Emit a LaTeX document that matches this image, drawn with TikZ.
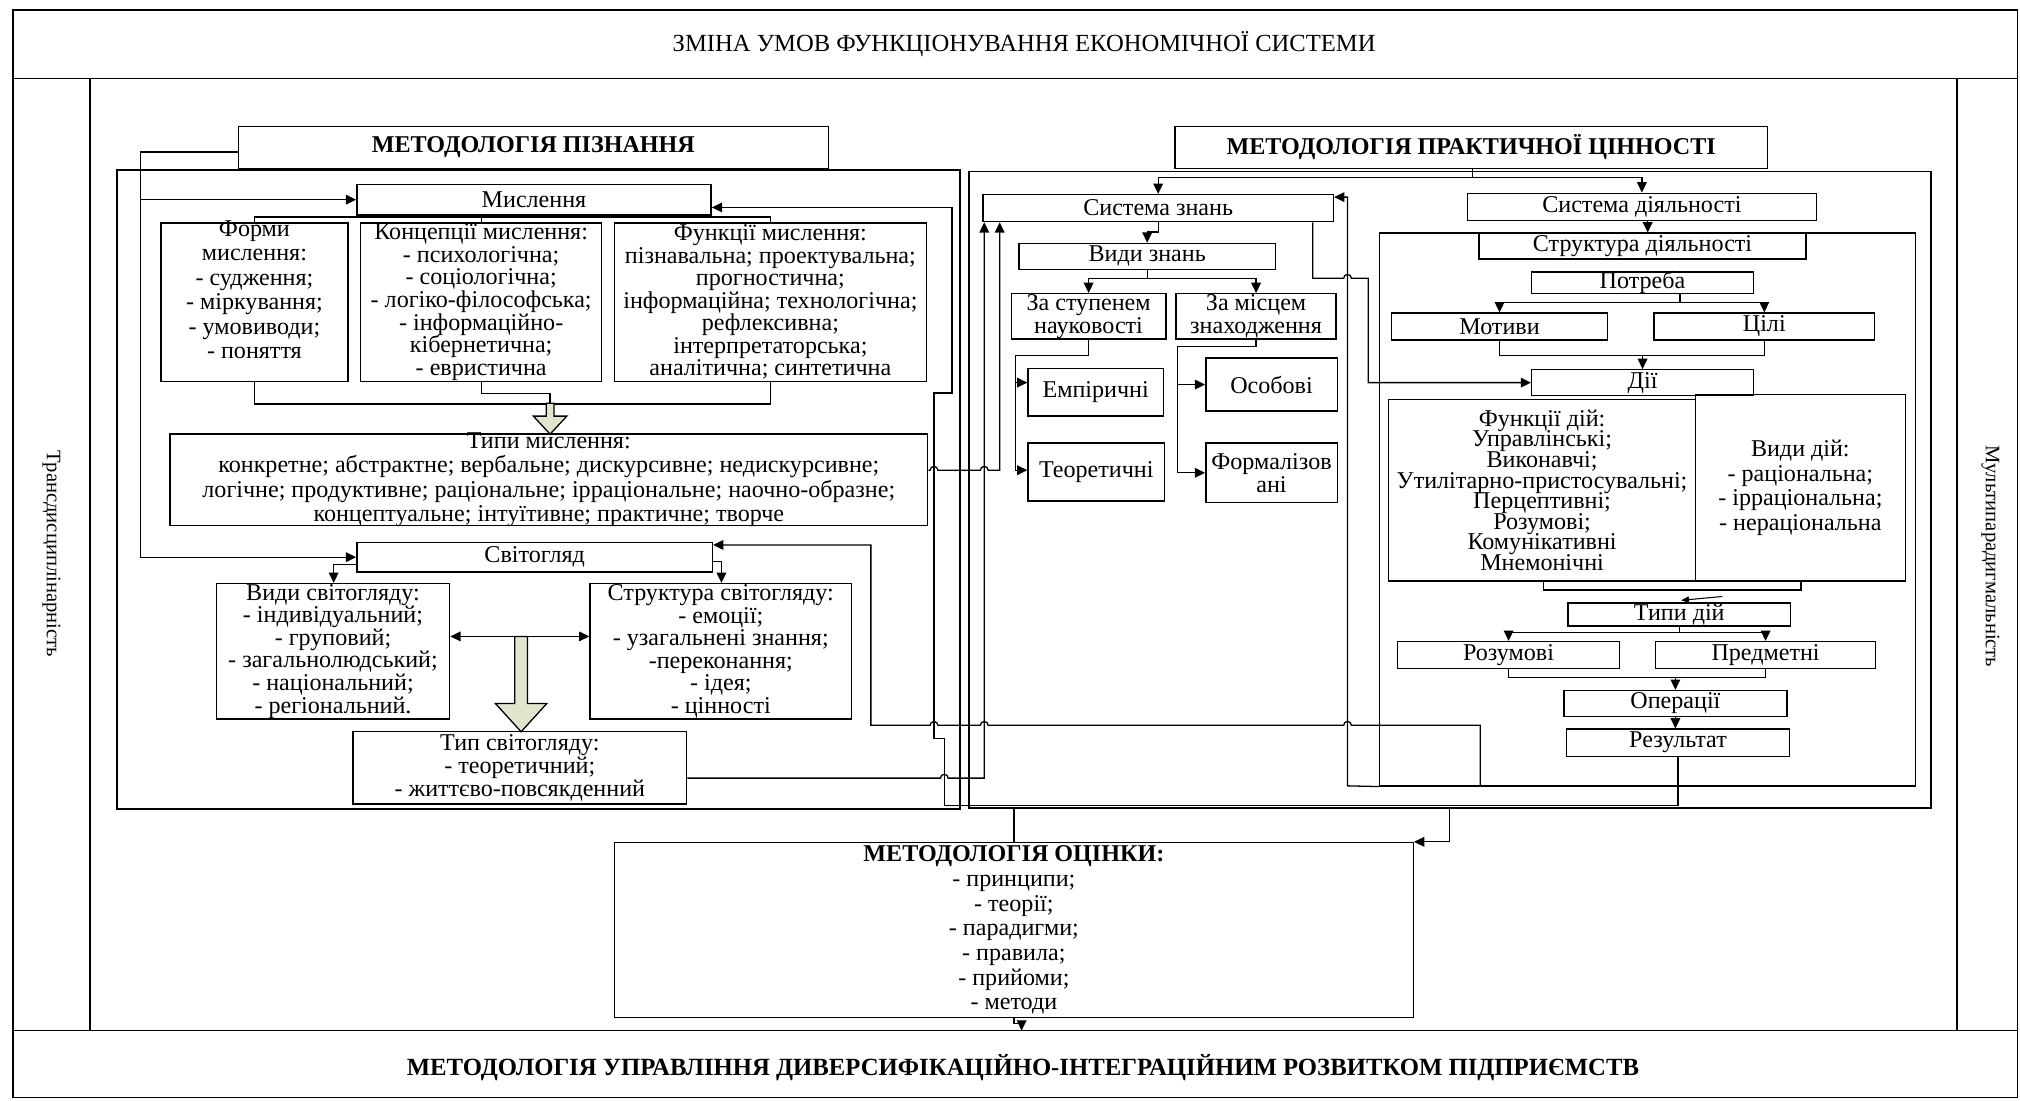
\documentclass[tikz,border=0pt]{standalone}
\usepackage{fontspec}
\setmainfont{Liberation Serif}
\usetikzlibrary{arrows.meta}
\definecolor{blockfill}{HTML}{E0E5CE}
\newcommand\fsz[1]{\fontsize{18.7}{#1}\selectfont\lineskiplimit=-50pt\relax}
% box node (border only) plus a centred text node on top of it
\newcommand\boxnode[7][]{%
  \node[box,minimum width={#5-#3},minimum height={#6-#4}] (#2) at ({(#3+#5)/2},{(#4+#6)/2}) {};
  \node[txt,#1] (#2-t) at (#2.center) {#7};}

\begin{document}
\begin{tikzpicture}[x=1pt,y=-1pt,
  box/.style={draw,line width=1.1pt,inner sep=0pt},
  txt/.style={align=center,inner sep=0pt,font=\fsz{19}},
  frm/.style={line width=1.3pt},
  ln/.style={line width=1pt},
  arr/.style={line width=1pt,-{Triangle[length=8pt,width=7.5pt]}},
  darr/.style={line width=1pt,{Triangle[length=8pt,width=7.5pt]}-{Triangle[length=8pt,width=7.5pt]}},
  block/.style={draw,line width=1pt,fill=blockfill},
  every node/.style={font=\fsz{19}}
]
\useasboundingbox (0,0) rectangle (1568,854);

% outer frame, header and footer bands, side strips
\draw[frm] (10,8) rectangle (1566,852);
\draw[frm] (10,61) -- (1566,61);
\draw[frm] (10,800) -- (1566,800);
\draw[frm] (70,61) -- (70,800);
\draw[frm] (1519,61) -- (1519,800);
\node[font=\fontsize{19.1}{21}\selectfont] (title) at (795,34) {ЗМІНА УМОВ ФУНКЦІОНУВАННЯ ЕКОНОМІЧНОЇ СИСТЕМИ};
\node[rotate=-90,font=\fontsize{16}{18}\selectfont] (trans) at (40,430) {Трансдисциплінарність};
\node[rotate=-90,font=\fontsize{16}{18}\selectfont] (multi) at (1545,432) {Мультипарадигмальність};
\node[font=\bfseries\fontsize{19.2}{21}\selectfont] (upr) at (794,829) {МЕТОДОЛОГІЯ УПРАВЛІННЯ ДИВЕРСИФІКАЦІЙНО-ІНТЕГРАЦІЙНИМ РОЗВИТКОМ ПІДПРИЄМСТВ};

% panel frames
\node[box,line width=1.3pt,minimum width=654,minimum height=496] (lframe) at (418,380) {};
\node[box,line width=1.3pt,minimum width=747,minimum height=494] (rframe) at (1125.5,380) {};
\node[box,minimum width=416,minimum height=429] (strframe) at (1279,395.5) {};

% panel headers
\boxnode[font=\bfseries\fsz{19}]{pizn}{185}{98}{643}{131}{МЕТОДОЛОГІЯ ПІЗНАННЯ}
\boxnode[font=\bfseries\fsz{19}]{prak}{912}{98}{1372}{131}{МЕТОДОЛОГІЯ ПРАКТИЧНОЇ ЦІННОСТІ}

% ---- cognition block ----
\boxnode{mysl}{277}{143}{552}{167}{Мислення}
\boxnode[yshift=9.5pt]{formy}{125}{173}{270}{296}{Форми\\мислення:\\- судження;\\- міркування;\\- умовиводи;\\- поняття}
\boxnode[font=\fsz{17.5}]{konc}{280}{173}{467}{296}{Концепції мислення:\\- психологічна;\\- соціологічна;\\- логіко-філософська;\\- інформаційно-\\кібернетична;\\- евристична}
\boxnode[font=\fsz{17.5}]{funk}{477}{173}{719}{296}{Функції мислення:\\пізнавальна; проектувальна;\\прогностична;\\інформаційна; технологічна;\\рефлексивна;\\інтерпретаторська;\\аналітична; синтетична}
\boxnode{typy}{132}{337}{720}{408}{Типи мислення:\\конкретне; абстрактне; вербальне; дискурсивне; недискурсивне;\\логічне; продуктивне; раціональне; ірраціональне; наочно-образне;\\концептуальне; інтуїтивне; практичне; творче}
\boxnode{tsvit}{277}{421}{553}{444}{Світогляд}
\boxnode[font=\fsz{17.5}]{vsv}{168}{453}{349}{558}{Види світогляду:\\- індивідуальний;\\- груповий;\\- загальнолюдський;\\- національний;\\- регіональний.}
\boxnode[font=\fsz{17.5}]{ssv}{458}{453}{661}{558}{Структура світогляду:\\- емоції;\\- узагальнені знання;\\-переконання;\\- ідея;\\- цінності}
\boxnode[font=\fsz{18}]{typsv}{274}{568}{533}{624}{Тип світогляду:\\- теоретичний;\\- життєво-повсякденний}

% ---- practical value block ----
\boxnode{znan}{763}{151}{1035}{172}{Система знань}
\boxnode{vydy}{791}{189}{990}{209}{Види знань}
\boxnode[font=\fsz{18}]{zast}{785}{228}{905}{263}{За ступенем\\науковості}
\boxnode[font=\fsz{18}]{zamis}{913}{228}{1037}{263}{За місцем\\знаходження}
\boxnode{emp}{798}{286}{903}{323}{Емпіричні}
\boxnode{teor}{798}{344}{904}{389}{Теоретичні}
\boxnode{osob}{936}{278}{1038}{319}{Особові}
\boxnode[font=\fsz{18}]{form}{936}{344}{1038}{390}{Формалізов\\ані}

\boxnode{sdiyal}{1139}{150}{1410}{171}{Система діяльності}
\boxnode{strd}{1148}{181}{1402}{201}{Структура діяльності}
\boxnode{potr}{1189}{211}{1361}{228}{Потреба}
\boxnode{motyv}{1080}{243}{1248}{264}{Мотиви}
\boxnode{tsili}{1284}{243}{1455}{264}{Цілі}
\boxnode{diyi}{1189}{287}{1361}{307}{Дії}
\boxnode[font=\fsz{16}]{fdiy}{1078}{310}{1316}{451}{Функції дій:\\Управлінські;\\Виконавчі;\\Утилітарно-пристосувальні;\\Перцептивні;\\Розумові;\\Комунікативні\\Мнемонічні}
\boxnode{vdiy}{1316}{306}{1479}{451}{Види дій:\\- раціональна;\\- ірраціональна;\\- нераціональна}
\boxnode{typd}{1217}{468}{1390}{486}{Типи дій}
\boxnode{rozum}{1085}{498}{1257}{519}{Розумові}
\boxnode{predm}{1285}{498}{1456}{519}{Предметні}
\boxnode{oper}{1214}{536}{1387}{556}{Операції}
\boxnode{rezult}{1216}{566}{1389}{587}{Результат}

% ---- evaluation block ----
\boxnode[font=\fsz{19.2}]{otsin}{477}{654}{1097}{790}{\textbf{МЕТОДОЛОГІЯ ОЦІНКИ:}\\- принципи;\\- теорії;\\- парадигми;\\- правила;\\- прийоми;\\- методи}

% ===== connectors: cognition =====
\draw[arr] (pizn.west |- 0,118) -| (109,300) |- (tsvit.west);
\draw[arr] (109,155) -- (mysl.west);
\draw[ln] (konc.north) -- (konc.north |- mysl.south);
\draw[ln] (formy.north) -- ++(0,-4) -| (funk.north);
\draw[ln] (formy.south) -- ++(0,17) -| (funk.south);
\draw[ln] (konc.south) -- ++(0,9) -| (427,313);
\draw[block] (424,313) -- (424,323) -- (414,323) -- (427,337) -- (440,323) -- (430,323) -- (430,313) -- cycle;

\draw[arr] (tsvit.west |- 0,438) -| (vsv.north -| 259,0);
\draw[arr] (tsvit.east |- 0,436) -| (ssv.north -| 560,0);
\draw[darr] (vsv.east |- 0,494) -- (ssv.west |- 0,494);
\draw[block] (399.5,494) -- (399.5,546) -- (384.5,546) -- (404.5,568) -- (424.5,546) -- (409.5,546) -- (409.5,494) -- cycle;

% thinking types -> knowledge system
\draw[arr] (typy.east |- 0,365) -- (722,365) arc[start angle=180,end angle=360,radius=3]
  -- (761,365) arc[start angle=180,end angle=360,radius=3] -- (776,365) -- (znan.south -| 776,0);
% worldview type -> knowledge system
\draw[arr] (typsv.east |- 0,604) -- (730,604) arc[start angle=180,end angle=360,radius=3]
  -- (764,604) -- (znan.south -| 764,0);
% result -> thinking (feedback)
\draw[arr] (rezult.south) -- (1302.5,625) -- (733,625) -- (733,573) -- (725,573) -- (725,305)
  -- (739,305) -- (739,161) -- (mysl.east |- 0,161);
% activity structure -> worldview (feedback)
\draw[arr] (strframe.south -| 1149,0) -- (1149,563) -- (1049,563) arc[start angle=0,end angle=-180,radius=3]
  -- (767,563) arc[start angle=0,end angle=-180,radius=3]
  -- (728,563) arc[start angle=0,end angle=-180,radius=3]
  -- (676,563) -- (676,423) -- (tsvit.east |- 0,423);

% ===== connectors: practical value =====
\draw[ln] (prak.south -| 1143,0) -- (1143,138);
\draw[arr] (1143,138) -- (899,138) -- (znan.north -| 899,0);
\draw[arr] (1143,138) -| (sdiyal.north);
\draw[arr] (znan.south -| 899,0) -- (899,180) -| (vydy.north);
\draw[arr] (vydy.south) -- (890.5,216) -| (zast.north);
\draw[arr] (890.5,216) -| (zamis.north);
\draw[ln] (zast.south) -- (845,276) -- (788,276) -- (788,365);
\draw[arr] (788,297) -- (emp.west |- 0,297);
\draw[arr] (788,365) -- (teor.west |- 0,365);
\draw[ln] (zamis.south) -- (975,269) -- (914,269) -- (914,367);
\draw[arr] (914,298.5) -- (osob.west);
\draw[arr] (914,367) -- (form.west);
\draw[arr] (znan.south -| 1019,0) -- (1019,216) -- (1043,216) arc[start angle=180,end angle=360,radius=3]
  -- (1062,216) -- (1062,297) -- (diyi.west);
\draw[arr] (strframe.south west) -- (1046,610) -- (1046,153) -- (znan.east |- 0,153);

\draw[arr] (sdiyal.south -| 1279,0) -- (strd.north -| 1279,0);
\draw[ln] (potr.south -| 1304,0) -- (1304,235);
\draw[arr] (1304,235) -| (motyv.north);
\draw[arr] (1304,235) -| (tsili.north);
\draw[ln] (motyv.south) |- (tsili.south |- 0,276) -- (tsili.south);
\draw[arr] (1275,276) -- (diyi.north -| 1275,0);
\draw[ln] (fdiy.south -| 1198,0) -- (1198,458) -- (1398,458) -- (vdiy.south -| 1398,0);
\draw[line width=0.8pt,-{Triangle[length=6pt,width=5pt]}] (1337,463) -- (1305,466);
\draw[ln] (typd.south) -- (1303.5,491);
\draw[arr] (1303.5,491) -| (rozum.north);
\draw[arr] (1303.5,491) -| (predm.north);
\draw[ln] (rozum.south) |- (predm.south |- 0,526) -- (predm.south);
\draw[arr] (1300.5,526) -- (oper.north);
\draw[arr] (oper.south) -- (rezult.north -| oper.south);

% ===== connectors: evaluation =====
\draw[ln] (rframe.south -| 787,0) -- (otsin.north -| 787,0);
\draw[arr] (rframe.south -| 1125,0) |- (otsin.north east);
\draw[arr] (otsin.south) -- ++(0,4) -- ++(6,0) -- (793,800);
\end{tikzpicture}
\end{document}
